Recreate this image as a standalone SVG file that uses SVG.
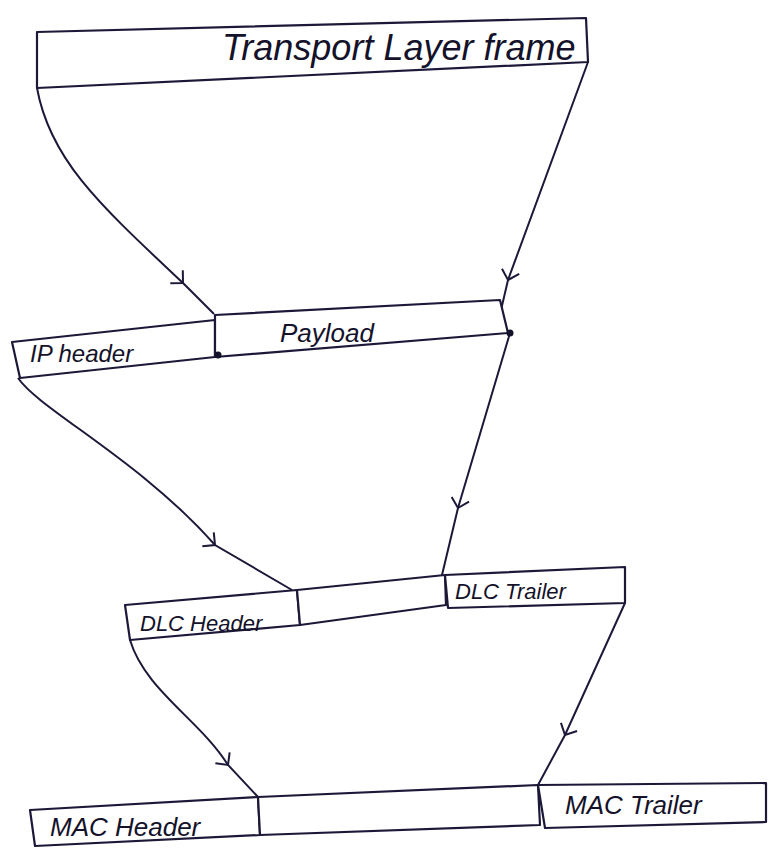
<svg xmlns="http://www.w3.org/2000/svg" width="769" height="857" viewBox="0 0 769 857">
<style>
.box{fill:#ffffff;stroke:#1c1838;stroke-width:2.2;stroke-linejoin:round}
.lbl{font-family:"Liberation Sans",Arial,sans-serif;fill:#14122a;font-style:italic}
.con{fill:none;stroke:#1c1838;stroke-width:2;marker-mid:url(#chev)}
.dot{fill:#14122a}
</style>
<defs>
<marker id="chev" viewBox="-12 -12 24 24" markerWidth="24" markerHeight="24" refX="0" refY="0" orient="auto" markerUnits="userSpaceOnUse">
<path d="M-9,-9 L0,0 L-9,9" fill="none" stroke="#1c1838" stroke-width="2"/>
</marker>
</defs>
<rect width="769" height="857" fill="#ffffff"/>
<g id="connectors">
<path class="con" d="M37,88 C50,160 100,205 183,283 L214,314"/>
<path class="con" d="M588,62 L508,280 L501,310"/>
<path class="con" d="M18,378 C40,410 140,460 215,545 L292,590"/>
<path class="con" d="M510,333 L458,508 L442,575"/>
<path class="con" d="M130,640 C145,690 200,720 228,765 L258,797"/>
<path class="con" d="M625,603 L565,735 L538,785"/>
</g>
<g id="transport-frame">
<polygon class="box" points="37,32 586,18 588,62 37,88"/>
<text class="lbl" x="222" y="60" font-size="36">Transport Layer frame</text>
</g>
<g id="ip-header">
<polygon class="box" points="12,342 215,320 215,357 20,378"/>
<text class="lbl" x="30" y="362" font-size="24">IP header</text>
</g>
<g id="payload">
<polygon class="box" points="215,315 500,300 508,333 215,357"/>
<text class="lbl" x="280" y="342" font-size="26">Payload</text>
<circle class="dot" cx="218" cy="355" r="3.5"/>
<circle class="dot" cx="510" cy="333" r="3.5"/>
</g>
<g id="dlc-header">
<polygon class="box" points="125,605 297,590 300,625 130,640"/>
<text class="lbl" x="140" y="631" font-size="22">DLC Header</text>
</g>
<g id="dlc-payload">
<polygon class="box" points="297,590 445,575 446,605 300,625"/>
</g>
<g id="dlc-trailer">
<polygon class="box" points="445,575 625,567 625,603 448,608"/>
<text class="lbl" x="455" y="599" font-size="22">DLC Trailer</text>
</g>
<g id="mac-header">
<polygon class="box" points="30,810 258,797 260,835 35,846"/>
<text class="lbl" x="50" y="836" font-size="26">MAC Header</text>
</g>
<g id="mac-payload">
<polygon class="box" points="258,797 538,785 540,825 260,835"/>
</g>
<g id="mac-trailer">
<polygon class="box" points="538,785 766,783 766,822 545,828"/>
<text class="lbl" x="565" y="814" font-size="26">MAC Trailer</text>
</g>
</svg>
